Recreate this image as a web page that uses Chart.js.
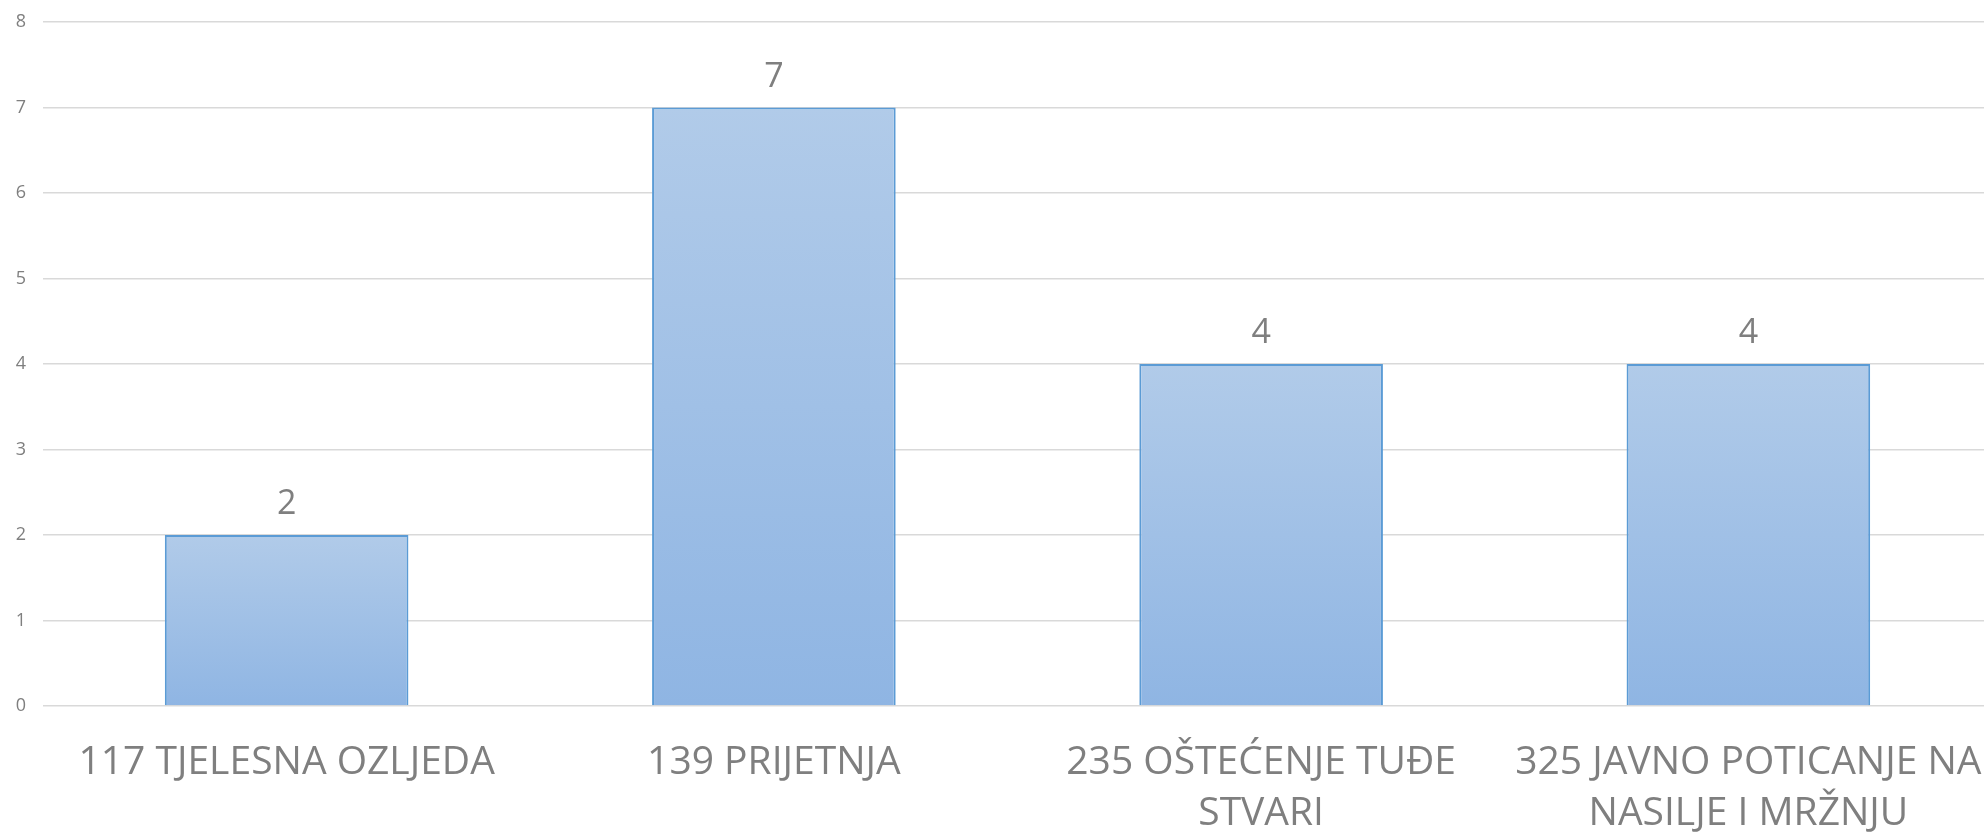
<!DOCTYPE html>
<html>
<head>
<meta charset="utf-8">
<script src="https://cdn.jsdelivr.net/npm/chart.js@4.4.1/dist/chart.umd.min.js"></script>
<style>
  html, body { margin: 0; padding: 0; background: #fff; overflow: hidden; }
  /* plot runs a few px past the right edge, as in the original */
  .wrap { position: relative; width: 1992px; height: 832px; }
</style>
</head>
<body>
<div class="wrap"><canvas id="chart"></canvas></div>
<script>
const categories = [
  ['117 TJELESNA OZLJEDA'],
  ['139 PRIJETNJA'],
  ['235 OŠTEĆENJE TUĐE', 'STVARI'],
  ['325 JAVNO POTICANJE NA', 'NASILJE I MRŽNJU']
];
const counts = [2, 7, 4, 4];
const yTicks = [0, 1, 2, 3, 4, 5, 6, 7, 8];

const FONT = '"Open Sans", Lato, sans-serif';
const GREY = '#7f7f7f';

// gradient per bar, light at the top, a bit darker at the base
function barGradient(ctx) {
  const chart = ctx.chart;
  const { chartArea, scales } = chart;
  if (!chartArea) return '#a3c0e6';
  const top = scales.y.getPixelForValue(ctx.raw);
  const base = scales.y.getPixelForValue(0);
  const g = chart.ctx.createLinearGradient(0, top, 0, base);
  g.addColorStop(0, '#b1cbe9');
  g.addColorStop(1, '#8fb5e3');
  return g;
}

// value labels above the bars
const valueLabels = {
  id: 'valueLabels',
  afterDatasetsDraw(chart) {
    const ctx = chart.ctx;
    const meta = chart.getDatasetMeta(0);
    ctx.save();
    ctx.font = '34px ' + FONT;
    ctx.fillStyle = GREY;
    ctx.textAlign = 'center';
    ctx.textBaseline = 'alphabetic';
    meta.data.forEach((bar, i) => {
      ctx.fillText(String(counts[i]), bar.x, bar.y - 21);
    });
    ctx.restore();
  }
};

new Chart(document.getElementById('chart'), {
  type: 'bar',
  data: {
    labels: categories,
    datasets: [{
      data: counts,
      backgroundColor: barGradient,
      borderColor: '#5b9bd5',
      borderWidth: 2,
      categoryPercentage: 1,
      barPercentage: 0.5
    }]
  },
  options: {
    responsive: true,
    maintainAspectRatio: false,
    animation: false,
    layout: { padding: { top: 22, right: 0, left: 0, bottom: 0 } },
    plugins: {
      legend: { display: false },
      tooltip: { enabled: false }
    },
    scales: {
      x: {
        grid: { display: false, drawTicks: false },
        border: { display: false },
        ticks: {
          color: GREY,
          font: { family: FONT, size: 39, lineHeight: 1.29 },
          padding: 32,
          maxRotation: 0,
          autoSkip: false
        },
        afterFit(scale) {
          scale.height = 126;
          scale.paddingLeft = 0;
          scale.paddingRight = 0;
        }
      },
      y: {
        min: 0,
        max: 8,
        afterBuildTicks(scale) {
          scale.ticks = yTicks.map(v => ({ value: v }));
        },
        grid: { color: '#d9d9d9', lineWidth: 1.5, drawTicks: false },
        border: { display: false },
        ticks: {
          color: GREY,
          font: { family: FONT, size: 18 },
          padding: 17
        },
        afterFit(scale) {
          scale.width = 43;
          scale.paddingTop = 0;
          scale.paddingBottom = 0;
        }
      }
    }
  },
  plugins: [valueLabels]
});
</script>
</body>
</html>
